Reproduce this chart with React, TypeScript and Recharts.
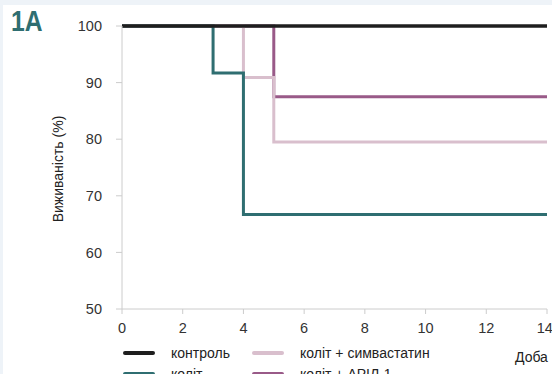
import { LineChart, Line, XAxis, YAxis } from 'recharts'

// days since colitis induction
const days = [0, 1, 2, 3, 4, 5, 6, 7, 8, 9, 10, 11, 12, 13, 14]

// survival, % (step values)
const control = [100, 100, 100, 100, 100, 100, 100, 100, 100, 100, 100, 100, 100, 100, 100]
const colitis = [100, 100, 100, 91.7, 66.7, 66.7, 66.7, 66.7, 66.7, 66.7, 66.7, 66.7, 66.7, 66.7, 66.7]
const simvastatin = [100, 100, 100, 100, 90.9, 79.5, 79.5, 79.5, 79.5, 79.5, 79.5, 79.5, 79.5, 79.5, 79.5]
const aril = [100, 100, 100, 100, 100, 87.5, 87.5, 87.5, 87.5, 87.5, 87.5, 87.5, 87.5, 87.5, 87.5]

const xTicks = [0, 2, 4, 6, 8, 10, 12, 14]
const yTicks = [50, 60, 70, 80, 90, 100]

const data = days.map((d, i) => ({
  day: d,
  control: control[i],
  colitis: colitis[i],
  simvastatin: simvastatin[i],
  aril: aril[i],
}))

const FONT = '"Liberation Sans", Arial, sans-serif'
const tick = { fontSize: 14.5, fill: '#333', fontFamily: FONT }

const legendItems = [
  { label: 'контроль', color: '#1e1e1e', x: 123, y: 353 },
  { label: 'коліт', color: '#2f6e71', x: 123, y: 374 },
  { label: 'коліт + симвастатин', color: '#d9bfcd', x: 252, y: 353 },
  { label: 'коліт + АРІЛ-1', color: '#995a88', x: 252, y: 374 },
]

export default function App() {
  return (
    <div style={{ position: 'fixed', left: 0, top: 0, width: 552, height: 374, background: '#eef3f8', overflow: 'hidden', fontFamily: FONT }}>
      <div style={{ position: 'absolute', left: 3, top: 5, right: 0, bottom: 0, background: '#fff' }} />
      <div style={{ position: 'absolute', left: 11, top: 5, fontSize: 29, fontWeight: 700, color: '#2f6e71', transform: 'scaleX(0.85)', transformOrigin: 'left top' }}>
        1A
      </div>
      <div style={{ position: 'absolute', left: 58, top: 169, transform: 'translate(-50%, -50%) rotate(-90deg)', fontSize: 14, color: '#222', whiteSpace: 'nowrap' }}>
        Виживаність (%)
      </div>
      <div style={{ position: 'absolute', left: 0, top: 0 }}>
        <LineChart width={552} height={374} data={data} margin={{ top: 26, right: 5, bottom: 35, left: 62 }}>
          <XAxis
            dataKey="day"
            type="number"
            domain={[0, 14]}
            ticks={xTicks}
            tick={tick}
            stroke="#cccccc"
            tickSize={5}
            tickMargin={9}
            height={30}
          />
          <YAxis
            type="number"
            domain={[50, 100]}
            ticks={yTicks}
            tick={tick}
            stroke="#cccccc"
            tickSize={6}
            tickMargin={14}
            width={60}
          />
          <Line dataKey="aril" type="stepAfter" stroke="#995a88" strokeWidth={3} dot={false} isAnimationActive={false} />
          <Line dataKey="simvastatin" type="stepAfter" stroke="#d9bfcd" strokeWidth={3} dot={false} isAnimationActive={false} />
          <Line dataKey="colitis" type="stepAfter" stroke="#2f6e71" strokeWidth={3} dot={false} isAnimationActive={false} />
          <Line dataKey="control" type="stepAfter" stroke="#1e1e1e" strokeWidth={3.5} dot={false} isAnimationActive={false} />
        </LineChart>
      </div>
      {legendItems.map(it => (
        <div key={it.label} style={{ position: 'absolute', left: it.x, top: it.y - 9, height: 18, display: 'flex', alignItems: 'center', whiteSpace: 'nowrap' }}>
          <div style={{ width: 32, height: 4, borderRadius: 2, background: it.color, marginRight: 16 }} />
          <span style={{ fontSize: 14, color: '#222' }}>{it.label}</span>
        </div>
      ))}
      <div style={{ position: 'absolute', left: 515, top: 349, fontSize: 14, color: '#222' }}>Доба</div>
    </div>
  )
}
